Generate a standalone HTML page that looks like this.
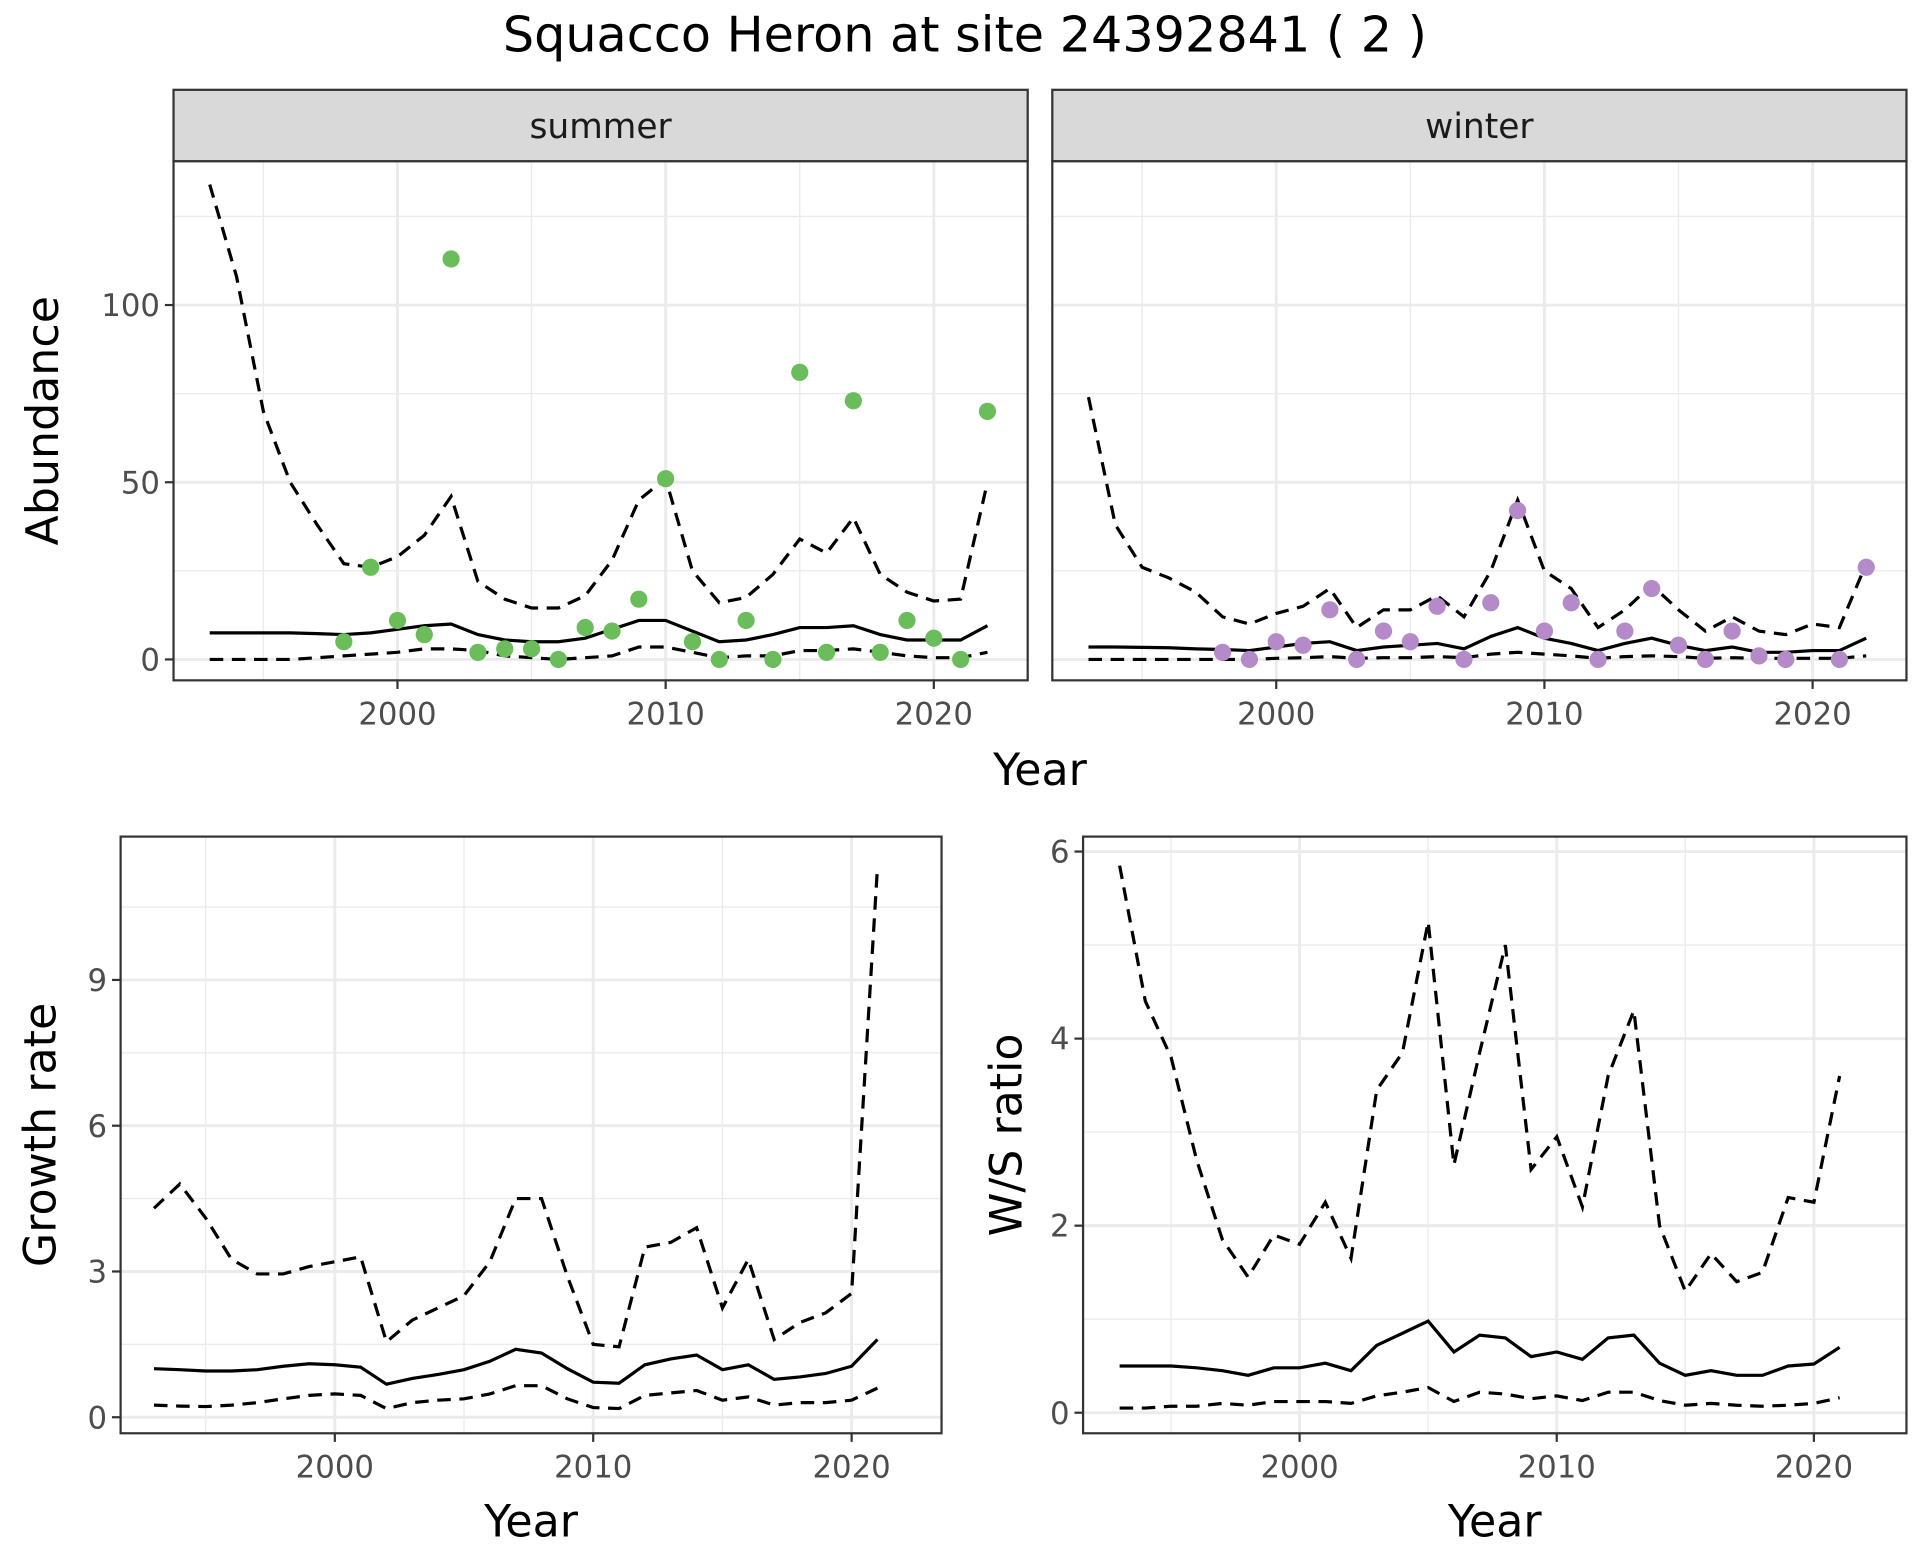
<!DOCTYPE html>
<html><head><meta charset="utf-8"><style>
html,body{margin:0;padding:0;background:#fff;}
svg{display:block;font-family:"DejaVu Sans","Liberation Sans",sans-serif;}
</style></head><body>
<svg id="chart" width="1920" height="1560" viewBox="0 0 1560 1268" preserveAspectRatio="none" xmlns="http://www.w3.org/2000/svg">
<text x="784" y="42" font-size="40" text-anchor="middle" fill="#000">Squacco Heron at site 24392841 ( 2 )</text>
</svg>
<script>
const yearsA = [1993,1994,1995,1996,1997,1998,1999,2000,2001,2002,2003,2004,2005,2006,2007,2008,2009,2010,2011,2012,2013,2014,2015,2016,2017,2018,2019,2020,2021,2022];
const summerMean = [7.5,7.5,7.5,7.5,7.3,7,7.5,8.5,9.5,10,7,5.5,5,5,6,8.5,11,11,8,5,5.5,7,9,9,9.5,7,5.5,5.5,5.5,9.5];
const summerUpper = [134,108,70,50,38,27,26,29,35,46,22,17,14.5,14.5,18,28,45,51,25,16,17.5,24,34,30,40,24,19,16.5,17,50];
const summerLower = [0,0,0,0,0.5,1,1.5,2,3,3,2.5,1,0.5,0,0.5,1,3.5,3.5,2,0.5,1,1,2.5,2.5,3,2,1,0.5,0.5,2];
const summerPtYears = [1998,1999,2000,2001,2002,2003,2004,2005,2006,2007,2008,2009,2010,2011,2012,2013,2014,2015,2016,2017,2018,2019,2020,2021,2022];
const summerPts = [5,26,11,7,113,2,3,3,0,9,8,17,51,5,0,11,0,81,2,73,2,11,6,0,70];
const winterMean = [3.5,3.5,3.4,3.3,3,2.8,2.5,3.5,4.5,5,2.5,3.5,4,4.5,3,6.5,9,6,4.5,2.5,4.5,6,4,2.5,3.5,2,2,2.5,2.5,6];
const winterUpper = [74,38,26,23,19,12,10,13,15,20,9,14,14,18,12,25,45,25,20,9,14,21,14,8,12,8,7,10,9,27];
const winterLower = [0,0,0,0,0,0,0,0.3,0.5,0.8,0.3,0.5,0.5,0.8,0.5,1.5,2,1.5,1,0.3,0.8,1,0.8,0.3,0.5,0.3,0.3,0.3,0.3,1];
const winterPtYears = [1998,1999,2000,2001,2002,2003,2004,2005,2006,2007,2008,2009,2010,2011,2012,2013,2014,2015,2016,2017,2018,2019,2021,2022];
const winterPts = [2,0,5,4,14,0,8,5,15,0,16,42,8,16,0,8,20,4,0,8,1,0,0,26];
const yearsB = [1993,1994,1995,1996,1997,1998,1999,2000,2001,2002,2003,2004,2005,2006,2007,2008,2009,2010,2011,2012,2013,2014,2015,2016,2017,2018,2019,2020,2021];
const growthMean = [1.0,0.98,0.95,0.95,0.98,1.05,1.1,1.08,1.03,0.68,0.8,0.88,0.98,1.15,1.4,1.32,1.0,0.72,0.7,1.08,1.2,1.28,0.98,1.08,0.78,0.83,0.9,1.05,1.6];
const growthUpper = [4.3,4.8,4.1,3.25,2.95,2.95,3.1,3.2,3.3,1.55,2.0,2.25,2.5,3.2,4.5,4.5,2.9,1.5,1.45,3.5,3.6,3.9,2.25,3.25,1.6,1.95,2.15,2.55,11.3];
const growthLower = [0.25,0.23,0.22,0.25,0.3,0.38,0.45,0.48,0.45,0.18,0.3,0.35,0.38,0.48,0.65,0.65,0.38,0.2,0.18,0.45,0.5,0.55,0.35,0.42,0.25,0.3,0.3,0.35,0.6];
const ratioMean = [0.5,0.5,0.5,0.48,0.45,0.4,0.48,0.48,0.53,0.45,0.72,0.85,0.98,0.65,0.83,0.8,0.6,0.65,0.57,0.8,0.83,0.53,0.4,0.45,0.4,0.4,0.5,0.52,0.7];
const ratioUpper = [5.85,4.4,3.8,2.7,1.85,1.45,1.9,1.8,2.25,1.65,3.45,3.85,5.25,2.65,3.85,5.0,2.6,2.95,2.2,3.6,4.3,2.0,1.3,1.7,1.4,1.5,2.3,2.25,3.6];
const ratioLower = [0.05,0.05,0.07,0.07,0.1,0.08,0.12,0.12,0.12,0.1,0.18,0.22,0.27,0.12,0.22,0.2,0.15,0.18,0.13,0.22,0.22,0.13,0.08,0.1,0.08,0.07,0.08,0.1,0.16];
const xTicks = [2000,2010,2020];
const xMinor = [1995,2005,2015];
const abTicks = [0,50,100];
const abMinor = [25,75,125];
const grTicks = [0,3,6,9];
const grMinor = [1.5,4.5,7.5,10.5];
const raTicks = [0,2,4,6];
const raMinor = [1,3,5];

const NS = "http://www.w3.org/2000/svg";
const svg = document.getElementById('chart');
function mk(tag, attrs, parent){
  const e = document.createElementNS(NS, tag);
  for (const k in attrs) e.setAttribute(k, attrs[k]);
  (parent||svg).appendChild(e);
  return e;
}
function panel(p){
  const g = mk('g', {});
  
  
  const sx = v => p.x0 + (v - p.xmin) / (p.xmax - p.xmin) * (p.x1 - p.x0);
  const sy = v => p.y1 - (v - p.ymin) / (p.ymax - p.ymin) * (p.y1 - p.y0);
  mk('rect', {x:p.x0, y:p.y0, width:p.x1-p.x0, height:p.y1-p.y0, fill:'#fff'}, g);
  p.yMinor.forEach(v => mk('line', {x1:p.x0, x2:p.x1, y1:sy(v), y2:sy(v), stroke:'#ebebeb', 'stroke-width':1.1}, g));
  xMinor.forEach(v => mk('line', {x1:sx(v), x2:sx(v), y1:p.y0, y2:p.y1, stroke:'#ebebeb', 'stroke-width':1.1}, g));
  p.yTicks.forEach(v => mk('line', {x1:p.x0, x2:p.x1, y1:sy(v), y2:sy(v), stroke:'#ebebeb', 'stroke-width':2.4}, g));
  xTicks.forEach(v => mk('line', {x1:sx(v), x2:sx(v), y1:p.y0, y2:p.y1, stroke:'#ebebeb', 'stroke-width':2.4}, g));
  const line = (ys, xs, dash, nm) => {
    const d = xs.map((x,i) => (i?'L':'M') + sx(x).toFixed(1) + ',' + sy(ys[i]).toFixed(1)).join(' ');
    const path = mk('path', {d:d, fill:'none', stroke:'#000', 'stroke-width':2.6}, g);
    if (dash) path.setAttribute('stroke-dasharray', '11,7');
    
    
  };
  line(p.upper, p.xs, true, 'upper-bound-line');
  line(p.lower, p.xs, true, 'lower-bound-line');
  line(p.mean, p.xs, false, 'mean-line');
  if (p.pts) p.pts.forEach((v,i) => {
    const c = mk('circle', {cx:sx(p.ptYears[i]), cy:sy(v), r:7, fill:p.color}, g);
    
    
  });
  mk('rect', {x:p.x0, y:p.y0, width:p.x1-p.x0, height:p.y1-p.y0, fill:'none', stroke:'#333', 'stroke-width':1.8}, g);
  if (p.strip) {
    const s = mk('rect', {x:p.x0, y:p.y0-58, width:p.x1-p.x0, height:58, fill:'#d9d9d9', stroke:'#333', 'stroke-width':1.8}, g);
    
    
    const st = mk('text', {x:(p.x0+p.x1)/2, y:p.y0-19, 'font-size':28, 'text-anchor':'middle', fill:'#1a1a1a'}, g);
    st.textContent = p.strip;
    
    
  }
  xTicks.forEach(v => {
    mk('line', {x1:sx(v), x2:sx(v), y1:p.y1, y2:p.y1+7, stroke:'#333', 'stroke-width':1.8}, g);
    const t = mk('text', {x:sx(v), y:p.y1+36, 'font-size':25, 'text-anchor':'middle', fill:'#4d4d4d'}, g);
    t.textContent = v;
    
    
  });
  if (p.showY) p.yTicks.forEach(v => {
    mk('line', {x1:p.x0-7, x2:p.x0, y1:sy(v), y2:sy(v), stroke:'#333', 'stroke-width':1.8}, g);
    const t = mk('text', {x:p.x0-11, y:sy(v)+9, 'font-size':25, 'text-anchor':'end', fill:'#4d4d4d'}, g);
    t.textContent = v;
    
    
  });
  if (p.ytitle) {
    const cy = (p.y0+p.y1)/2;
    const t = mk('text', {x:p.ytx, y:cy, 'font-size':36, 'text-anchor':'middle', fill:'#000', transform:'rotate(-90 '+p.ytx+' '+cy+')'}, g);
    t.textContent = p.ytitle;
    
    
  }
  if (p.xtitle) {
    const t = mk('text', {x:(p.x0+p.x1)/2, y:p.y1+84, 'font-size':36, 'text-anchor':'middle', fill:'#000'}, g);
    t.textContent = 'Year';
    
    
  }
}
const topX = {xmin:1991.65, xmax:2023.5};
panel(Object.assign({name:'summer-panel', x0:141, x1:835, y0:131, y1:553, ymin:-5.9, ymax:140.6, yTicks:abTicks, yMinor:abMinor, xs:yearsA, mean:summerMean, upper:summerUpper, lower:summerLower, pts:summerPts, ptYears:summerPtYears, color:'#6abd5a', strip:'summer', showY:true, ytitle:'Abundance', ytx:47}, topX));
panel(Object.assign({name:'winter-panel', x0:855, x1:1549, y0:131, y1:553, ymin:-5.9, ymax:140.6, yTicks:abTicks, yMinor:abMinor, xs:yearsA, mean:winterMean, upper:winterUpper, lower:winterLower, pts:winterPts, ptYears:winterPtYears, color:'#b48ac9', strip:'winter', showY:false}, topX));
const tx = mk('text', {x:845, y:638, 'font-size':36, 'text-anchor':'middle', fill:'#000'});
tx.textContent = 'Year';


panel({name:'growth-rate-panel', x0:98, x1:765, y0:680, y1:1165, xmin:1991.71, xmax:2023.48, ymin:-0.33, ymax:11.95, yTicks:grTicks, yMinor:grMinor, xs:yearsB, mean:growthMean, upper:growthUpper, lower:growthLower, showY:true, ytitle:'Growth rate', ytx:45, xtitle:true});
panel({name:'ws-ratio-panel', x0:880, x1:1549, y0:680, y1:1165, xmin:1991.58, xmax:2023.6, ymin:-0.22, ymax:6.16, yTicks:raTicks, yMinor:raMinor, xs:yearsB, mean:ratioMean, upper:ratioUpper, lower:ratioLower, showY:true, ytitle:'W/S ratio', ytx:830, xtitle:true});
</script>
</body></html>
